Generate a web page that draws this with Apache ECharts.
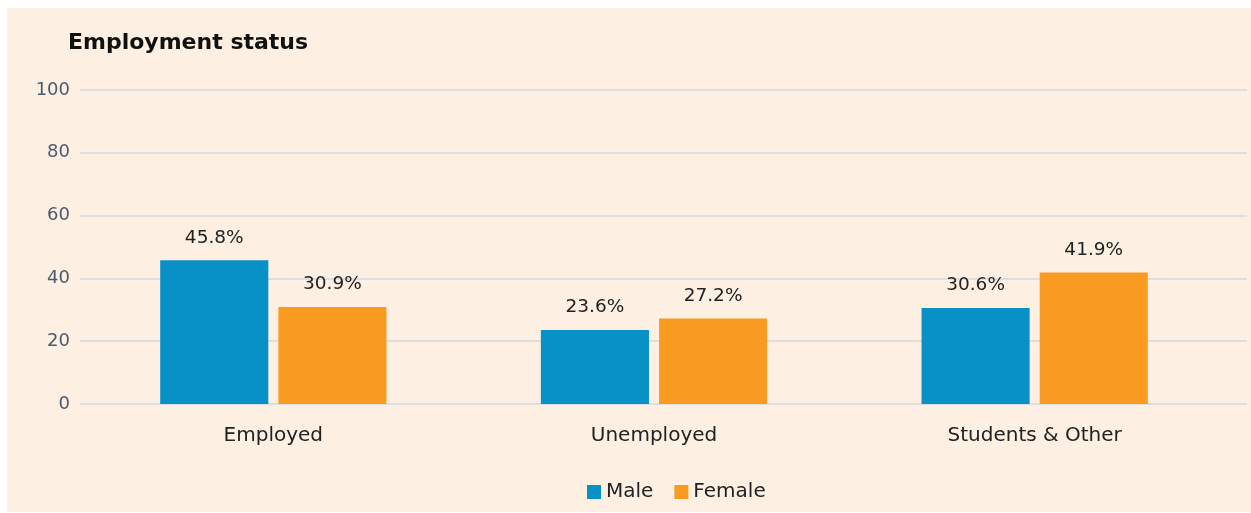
<!doctype html>
<html>
	<head>
		<meta charset="UTF-8">
		<title>Employment status</title>
		<script src="https://cdn.jsdelivr.net/npm/echarts@6/dist/echarts.min.js"></script>
		<style type="text/css">
			html,body{
				margin: 0;
				padding: 0;
				background-color: white;
			}
			#main{
				position: absolute;
				left: 7px;
				top: 8px;
				width: 1244px;
				height: 504px;
				background-color: #FDF0E2;
			}
		</style>
	</head>
	<body>
		<div id="main"></div>
		<script type="text/javascript">
			var categories = ['Employed', 'Unemployed', 'Students & Other'];
			var maleValues = [45.8, 23.6, 30.6];
			var femaleValues = [30.9, 27.2, 41.9];
			var yTicks = [0, 20, 40, 60, 80, 100];

			var font = 'DejaVu Sans';
			var myChart = echarts.init(document.getElementById('main'));
			var labelStyle = {
				show: true,
				position: 'top',
				distance: 13,
				fontFamily: font,
				fontSize: 18.5,
				color: '#222222',
				formatter: function(p){ return p.value.toFixed(1) + '%'; }
			};
			var option = {
				animation: false,
				title: {
					text: 'Employment status',
					left: 56,
					top: 19,
					textStyle: {fontFamily: font, fontSize: 22, fontWeight: 'bold', color: '#111111'}
				},
				color: ['#0891C7', '#F99B21'],
				legend: {
					data: ['Male', 'Female'],
					left: 575,
					top: 469,
					icon: 'rect',
					itemWidth: 14,
					itemHeight: 14,
					itemGap: 21,
					itemStyle: {borderWidth: 0},
					textStyle: {fontFamily: font, fontSize: 20, color: '#222222'}
				},
				grid: [
					// bars
					{left: 76, right: 26, top: 82, bottom: 108},
					// grid lines, a bit wider than the bars area
					{left: 73, right: 4, top: 82, bottom: 108}
				],
				xAxis: [
					{
						type: 'category',
						gridIndex: 0,
						data: categories,
						axisLine: {show: false},
						axisTick: {show: false},
						axisLabel: {margin: 22, fontFamily: font, fontSize: 20, color: '#222222'}
					},
					{
						type: 'value',
						gridIndex: 1,
						show: false
					}
				],
				yAxis: [
					{
						type: 'value',
						gridIndex: 0,
						min: yTicks[0],
						max: yTicks[yTicks.length - 1],
						interval: 20,
						show: false
					},
					{
						type: 'value',
						gridIndex: 1,
						min: yTicks[0],
						max: yTicks[yTicks.length - 1],
						interval: 20,
						axisLine: {show: false},
						axisTick: {show: false},
						axisLabel: {margin: 10, fontFamily: font, fontSize: 18, color: '#4A5A70'},
						splitLine: {lineStyle: {color: '#DDDEE2', width: 2}}
					}
				],
				series: [
					{
						name: 'Male',
						type: 'bar',
						xAxisIndex: 0,
						yAxisIndex: 0,
						data: maleValues,
						barWidth: '28.4%',
						barGap: '9.3%',
						label: labelStyle,
						z: 3
					},
					{
						name: 'Female',
						type: 'bar',
						xAxisIndex: 0,
						yAxisIndex: 0,
						data: femaleValues,
						barWidth: '28.4%',
						barGap: '9.3%',
						label: labelStyle,
						z: 3
					}
				]
			};
			myChart.setOption(option);
		</script>
	</body>
</html>
